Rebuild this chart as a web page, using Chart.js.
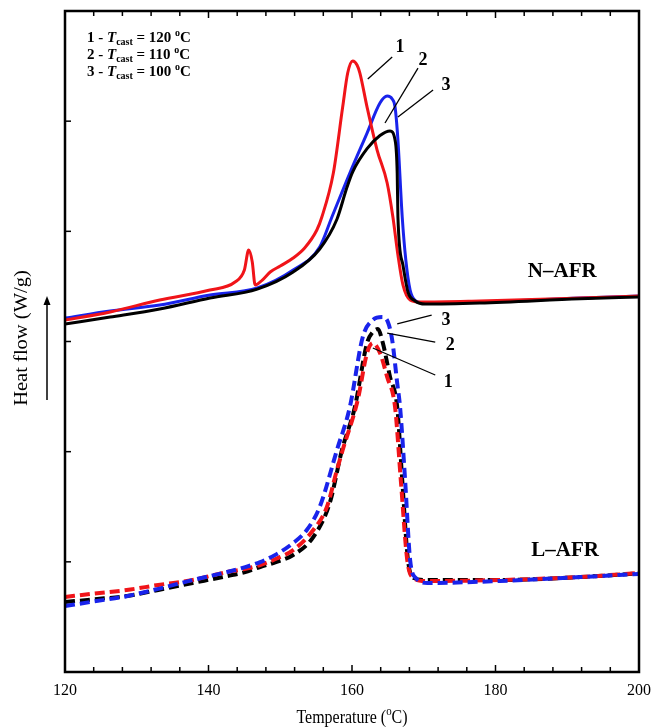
<!DOCTYPE html>
<html><head><meta charset="utf-8">
<script src="https://cdn.jsdelivr.net/npm/chart.js@4/dist/chart.umd.min.js"></script>
<style>html,body{margin:0;padding:0;background:#fff;}#wrap{width:653px;height:728px;}</style>
</head><body><div id="wrap"><canvas id="c" width="653" height="728"></canvas></div>
<script>
// ---- Data (temperature in °C, heat flow in arbitrary offset units) ----
const xTicks = [120, 140, 160, 180, 200];
const labelsCast = ['1 - ', '2 - ', '3 - '];
const castTemps = ['120', '110', '100'];

// N-AFR (solid)
const nafr1T = [120,126.3,133.2,140.2,143.7,145.0,145.6,146.1,146.5,147.5,148.6,150.0,151.8,153.4,155.1,155.8,157.4,158.7,159.4,160.1,160.7,161.1,162.1,163.5,164.9,165.7,166.4,167.1,168.1,169.5,177.8,191.8,200];
const nafr1V = [3.195,3.268,3.377,3.467,3.540,3.649,3.830,3.722,3.513,3.558,3.631,3.685,3.758,3.849,4.012,4.130,4.529,5.128,5.437,5.546,5.510,5.437,5.128,4.738,4.439,4.130,3.785,3.513,3.377,3.358,3.368,3.395,3.413];
const nafr2T = [120,126.3,133.2,140.2,146.8,151.8,155.5,157.9,159.3,160.1,162.1,163.9,165.3,166.0,166.3,166.4,167.1,167.8,168.8,170.2,177.8,191.8,200];
const nafr2V = [3.159,3.222,3.295,3.395,3.476,3.631,3.840,4.110,4.400,4.540,4.750,4.870,4.911,4.829,4.529,4.130,3.694,3.449,3.368,3.340,3.350,3.388,3.405];
const nafr3T = [120,126.3,133.2,140.2,146.8,151.8,155.5,157.2,159.7,162.1,163.9,164.9,165.6,166.0,166.4,167.0,167.5,168.1,168.9,170.2,177.8,191.8,200];
const nafr3V = [3.213,3.277,3.331,3.422,3.486,3.649,3.858,4.130,4.529,4.892,5.165,5.228,5.201,5.128,4.829,4.130,3.740,3.467,3.368,3.349,3.358,3.395,3.413];

// L-AFR (dashed)
const lafr1T = [120,124,128.6,133,137.8,142.6,145,147.2,149.5,151.8,154.6,156.5,157.9,158.7,160.8,162.1,162.9,163.9,164.9,166.0,166.8,167.7,168.6,170.2,180.6,191.8,200];
const lafr1V = [0.681,0.712,0.744,0.790,0.835,0.908,0.935,0.971,1.030,1.107,1.289,1.498,1.834,2.015,2.469,2.896,2.986,2.896,2.678,2.405,1.743,1.017,0.853,0.826,0.835,0.862,0.899];
const lafr2T = [120,124,128.6,133,137.8,142.6,145,147.2,149.5,151.8,154.6,156.9,158.6,160.4,162.1,162.9,163.6,164.3,165.3,166.3,167.0,167.8,168.6,170.5,180.6,191.8,200];
const lafr2V = [0.635,0.660,0.690,0.745,0.808,0.871,0.905,0.953,1.000,1.062,1.225,1.534,2.015,2.405,2.986,3.086,3.113,2.986,2.678,2.405,1.743,1.017,0.853,0.835,0.835,0.862,0.895];
const lafr3T = [120,124,128.6,133,137.8,142.6,145,147.2,149.5,151.8,153.7,155.5,157.9,159.7,161.5,162.9,164.2,165.0,165.6,166.3,166.7,167.4,168.1,168.9,170.5,180.6,191.8,200];
const lafr3V = [0.599,0.640,0.688,0.755,0.835,0.908,0.950,0.998,1.070,1.171,1.289,1.498,2.015,2.405,3.041,3.195,3.222,3.177,3.014,2.623,2.405,1.743,1.017,0.853,0.808,0.826,0.862,0.890];

const RED = 'rgb(240,20,25)', BLUE = 'rgb(25,35,235)', BLACK = '#000';
const zip = (a, b) => a.map((t, i) => ({x: t, y: b[i]}));

function solid(T, V, c) {
  return {data: zip(T, V), borderColor: c, borderWidth: 3, pointRadius: 0, fill: false, cubicInterpolationMode: 'monotone'};
}
function dashed(T, V, c) {
  return {data: zip(T, V), borderColor: c, borderWidth: 4, borderDash: [10, 5], pointRadius: 0, fill: false, cubicInterpolationMode: 'monotone'};
}

const SERIF = '"Liberation Serif", "DejaVu Serif", serif';

const decor = {
  id: 'decor',
  afterDraw(chart) {
    const ctx = chart.ctx, xs = chart.scales.x, ys = chart.scales.y, a = chart.chartArea;
    const X = v => xs.getPixelForValue(v), Y = v => ys.getPixelForValue(v);
    ctx.save();
    // frame
    ctx.strokeStyle = '#000'; ctx.lineWidth = 2.5;
    ctx.strokeRect(a.left, a.top, a.right - a.left, a.bottom - a.top);
    // x ticks (inside, bottom and top)
    ctx.lineWidth = 1.5;
    for (let t = 124; t < 200; t += 4) {
      const len = (t % 20 === 0) ? 7 : 5;
      const px = X(t);
      ctx.beginPath(); ctx.moveTo(px, a.bottom); ctx.lineTo(px, a.bottom - len); ctx.stroke();
      ctx.beginPath(); ctx.moveTo(px, a.top); ctx.lineTo(px, a.top + len); ctx.stroke();
    }
    // y ticks
    for (let v = 1; v < 6; v++) {
      const py = Y(v);
      ctx.beginPath(); ctx.moveTo(a.left, py); ctx.lineTo(a.left + 6, py); ctx.stroke();
    }
    // x title (slightly condensed, like the reference)
    ctx.fillStyle = '#000';
    ctx.textBaseline = 'alphabetic';
    const p1 = 'Temperature (', p3 = 'C)';
    ctx.save();
    const cx = (a.left + a.right) / 2, by = 723;
    ctx.translate(cx, by); ctx.scale(0.84, 1);
    ctx.font = '19px ' + SERIF; const w1 = ctx.measureText(p1).width, w3 = ctx.measureText(p3).width;
    ctx.font = '13px ' + SERIF; const w2 = ctx.measureText('o').width;
    const sx = -(w1 + w2 + w3) / 2;
    ctx.font = '19px ' + SERIF; ctx.textAlign = 'left'; ctx.fillText(p1, sx, 0);
    ctx.font = '13px ' + SERIF; ctx.fillText('o', sx + w1, -8);
    ctx.font = '19px ' + SERIF; ctx.fillText(p3, sx + w1 + w2, 0);
    ctx.restore();
    // y title + arrow
    ctx.save(); ctx.translate(27, 338); ctx.rotate(-Math.PI / 2); ctx.scale(1.14, 1);
    ctx.font = '18px ' + SERIF; ctx.textAlign = 'center'; ctx.fillText('Heat flow (W/g)', 0, 0);
    ctx.restore();
    ctx.lineWidth = 1.5;
    ctx.beginPath(); ctx.moveTo(47, 400); ctx.lineTo(47, 300); ctx.stroke();
    ctx.beginPath(); ctx.moveTo(47, 296); ctx.lineTo(43.5, 305); ctx.lineTo(50.5, 305); ctx.closePath(); ctx.fill();
    // legend
    const lx = a.left + 22;
    [37, 54, 71].forEach((yy, i) => {
      let x = lx; const base = yy + 5;
      ctx.textAlign = 'left';
      ctx.font = 'bold 15px ' + SERIF; ctx.fillText(labelsCast[i], x, base); x += ctx.measureText(labelsCast[i]).width;
      ctx.font = 'italic bold 15px ' + SERIF; ctx.fillText('T', x, base); x += ctx.measureText('T').width;
      ctx.font = 'bold 10px ' + SERIF; ctx.fillText('cast', x, base + 3); x += ctx.measureText('cast').width;
      ctx.font = 'bold 15px ' + SERIF; const s = ' = ' + castTemps[i] + ' ';
      ctx.fillText(s, x, base); x += ctx.measureText(s).width;
      ctx.font = 'bold 10px ' + SERIF; ctx.fillText('o', x, base - 6); x += ctx.measureText('o').width;
      ctx.font = 'bold 15px ' + SERIF; ctx.fillText('C', x, base);
    });
    // curve number labels with leader lines (data coordinates)
    const marks = [
      ['1', 166.7, 5.673, 165.6, 5.582, 162.2, 5.383],
      ['2', 169.9, 5.555, 169.2, 5.482, 164.6, 4.983],
      ['3', 173.1, 5.328, 171.3, 5.283, 166.4, 5.038],
      ['3', 173.1, 3.195, 171.1, 3.240, 166.3, 3.159],
      ['2', 173.7, 2.968, 171.6, 2.995, 164.9, 3.077],
      ['1', 173.4, 2.632, 171.6, 2.696, 162.9, 2.941]
    ];
    ctx.lineWidth = 1.3;
    ctx.textAlign = 'center'; ctx.textBaseline = 'middle';
    marks.forEach(m => {
      ctx.font = 'bold 18px ' + SERIF;
      ctx.fillText(m[0], X(m[1]), Y(m[2]));
      ctx.beginPath(); ctx.moveTo(X(m[3]), Y(m[4])); ctx.lineTo(X(m[5]), Y(m[6])); ctx.stroke();
    });
    ctx.font = 'bold 21px ' + SERIF;
    ctx.fillText('N\u2013AFR', X(189.3), Y(3.631));
    ctx.fillText('L\u2013AFR', X(189.7), Y(1.098));
    ctx.restore();
  }
};

new Chart(document.getElementById('c'), {
  type: 'line',
  data: {datasets: [
    solid(nafr2T, nafr2V, BLACK),
    solid(nafr1T, nafr1V, RED),
    solid(nafr3T, nafr3V, BLUE),
    dashed(lafr3T, lafr3V, BLUE),
    dashed(lafr1T, lafr1V, RED),
    dashed(lafr2T, lafr2V, BLACK)
  ]},
  options: {
    responsive: false, animation: false, devicePixelRatio: 1,
    layout: {padding: {top: 11, right: 14, left: 0, bottom: 0}},
    plugins: {legend: {display: false}, tooltip: {enabled: false}},
    scales: {
      x: {type: 'linear', min: 120, max: 200,
          grid: {display: false}, border: {display: false},
          ticks: {stepSize: 20, color: '#000', padding: 1, maxRotation: 0,
                  font: {family: SERIF, size: 16},
                  callback: v => xTicks.includes(v) ? String(v) : ''},
          afterFit(s) { s.height = 56; s.paddingLeft = 0; s.paddingRight = 0; }},
      y: {min: 0, max: 6, grid: {display: false}, border: {display: false},
          ticks: {display: false}, afterFit(s) { s.width = 65; s.paddingTop = 0; s.paddingBottom = 0; }}
    }
  },
  plugins: [decor]
});
</script></body></html>
